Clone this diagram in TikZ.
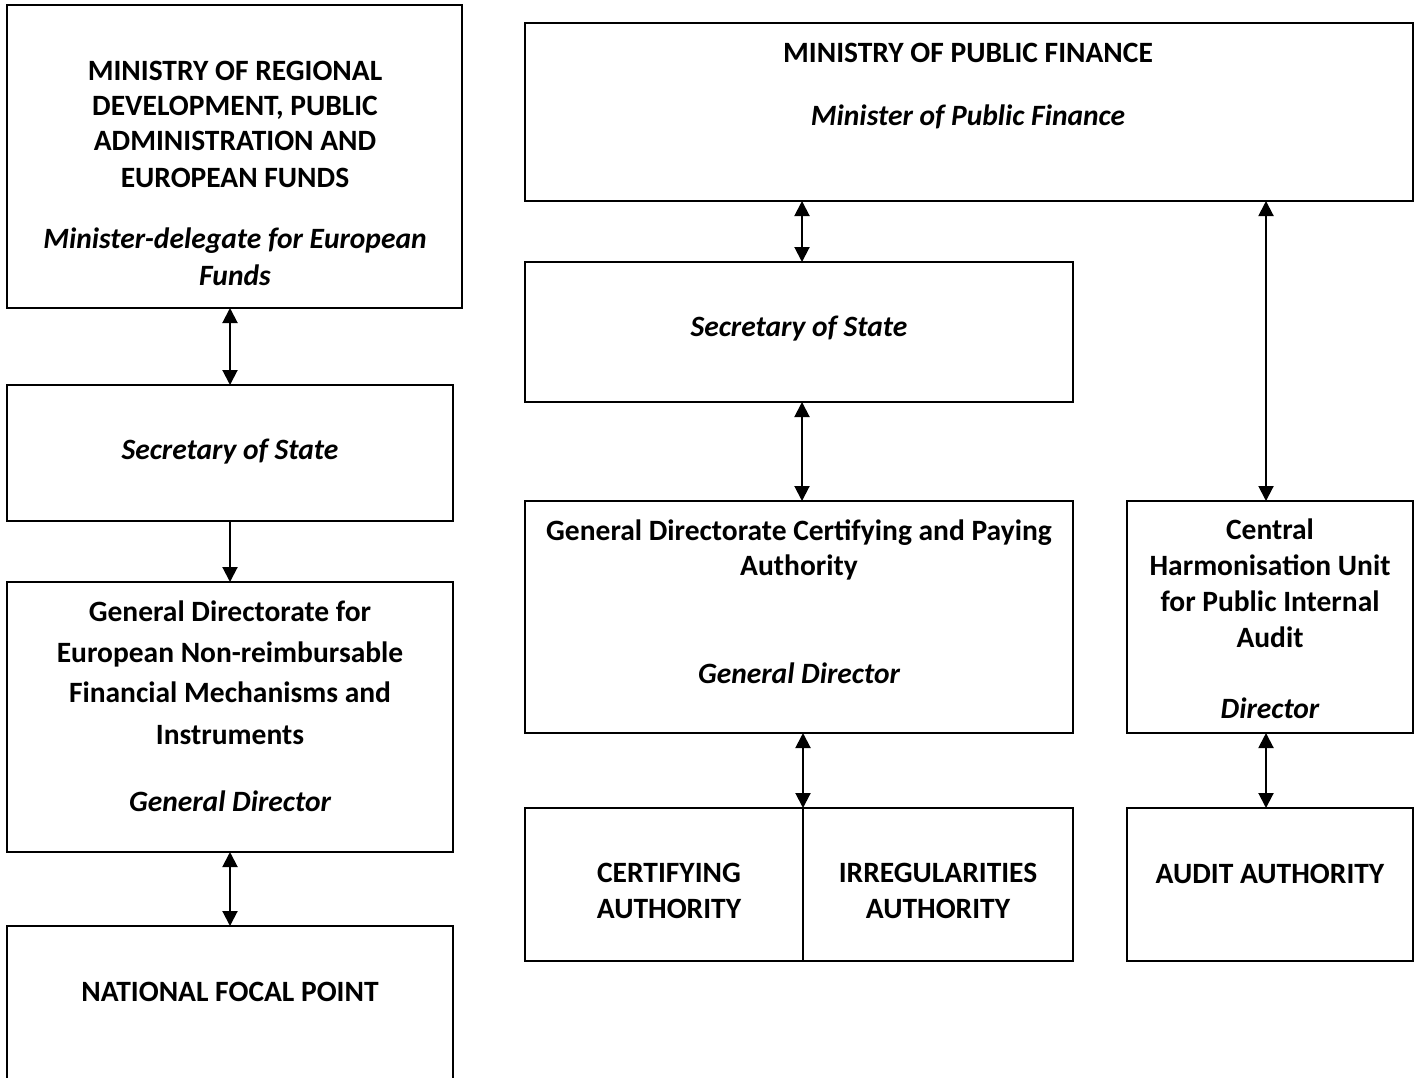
\documentclass[tikz,border=0pt]{standalone}
\usepackage{fontspec}
\setmainfont{Carlito}
\usetikzlibrary{arrows.meta,fit}
\begin{document}
\begin{tikzpicture}[x=1pt,y=-1pt,
  box/.style={draw,line width=1.7pt,inner sep=0pt,outer sep=0pt},
  bt/.style={anchor=base,inner sep=0pt,font=\fontsize{29.5}{35}\selectfont\bfseries},
  it/.style={anchor=base,inner sep=0pt,font=\fontsize{29.5}{35}\selectfont\bfseries\itshape},
  tip/.tip={Triangle[length=15pt,width=15pt]},
  dbl/.style={line width=2pt,tip-tip},
  sgl/.style={line width=2pt,-tip}]
\useasboundingbox (0,0) rectangle (1418,1077);
\fill[white] (0,0) rectangle (1418,1077);
% boxes
\node[box,fit={(7,5) (462,308)}] (l1) {};
\node[box,fit={(7,385) (453,521)}] (l2) {};
\node[box,fit={(7,582) (453,852)}] (l3) {};
\node[box,fit={(7,926) (453,1100)}] (l4) {};
\node[box,fit={(525,23) (1413,201)}] (mpf) {};
\node[box,fit={(525,262) (1073,402)}] (sos) {};
\node[box,fit={(525,501) (1073,733)}] (gd) {};
\node[box,fit={(1127,501) (1413,733)}] (chu) {};
\node[box,fit={(525,808) (803,961)}] (cert) {};
\node[box,fit={(803,808) (1073,961)}] (irr) {};
\node[box,fit={(1127,808) (1413,961)}] (aa) {};
% texts left
\node[bt] (t1) at (235,80) {MINISTRY OF REGIONAL};
\node[bt] (t2) at (235,115) {DEVELOPMENT, PUBLIC};
\node[bt] (t3) at (235,150) {ADMINISTRATION AND};
\node[bt] (t4) at (235,187) {EUROPEAN FUNDS};
\node[it] (t5) at (235,248) {Minister-delegate for European};
\node[it] (t6) at (235,285) {Funds};
\node[it] (t7) at (230,459) {Secretary of State};
\node[bt] (t8) at (230,621) {General Directorate for};
\node[bt] (t9) at (230,662) {European Non-reimbursable};
\node[bt] (t10) at (230,702) {Financial Mechanisms and};
\node[bt] (t11) at (230,744) {Instruments};
\node[it] (t12) at (230,811) {General Director};
\node[bt] (t13) at (230,1001) {NATIONAL FOCAL POINT};
% texts right
\node[bt] (t14) at (968,62) {MINISTRY OF PUBLIC FINANCE};
\node[it] (t15) at (968,125) {Minister of Public Finance};
\node[it] (t16) at (799,336) {Secretary of State};
\node[bt] (t17) at (799,540) {General Directorate Certifying and Paying};
\node[bt] (t18) at (799,575) {Authority};
\node[it] (t19) at (799,683) {General Director};
\node[bt] (t20) at (1270,539) {Central};
\node[bt] (t21) at (1270,575) {Harmonisation Unit};
\node[bt] (t22) at (1270,611) {for Public Internal};
\node[bt] (t23) at (1270,647) {Audit};
\node[it] (t24) at (1270,718) {Director};
\node[bt] (t25) at (669,882) {CERTIFYING};
\node[bt] (t26) at (669,918) {AUTHORITY};
\node[bt] (t27) at (938,882) {IRREGULARITIES};
\node[bt] (t28) at (938,918) {AUTHORITY};
\node[bt] (t29) at (1270,883) {AUDIT AUTHORITY};
% connectors
\draw[dbl] (l2.north |- l1.south) -- (l2.north);
\draw[sgl] (l2.south) -- (l3.north);
\draw[dbl] (l3.south) -- (l4.north);
\draw[dbl] ([xshift=3pt]sos.north |- mpf.south) -- ([xshift=3pt]sos.north);
\draw[dbl] ([xshift=3pt]sos.south) -- ([xshift=3pt]gd.north);
\draw[dbl] ([xshift=-4pt]chu.north |- mpf.south) -- ([xshift=-4pt]chu.north);
\draw[dbl] (irr.north west |- gd.south) -- (irr.north west);
\draw[dbl] ([xshift=-4pt]chu.south) -- ([xshift=-4pt]aa.north);
\end{tikzpicture}
\end{document}
